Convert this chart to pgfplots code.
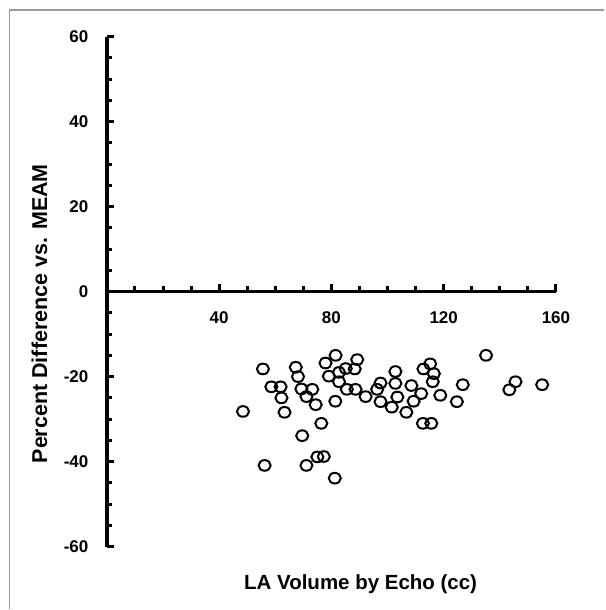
\documentclass[border=0pt]{standalone}
\usepackage{pgfplots}
\pgfplotsset{compat=1.18}
\usepackage{fontspec}
\setmainfont{Liberation Sans}

\begin{document}
\begin{tikzpicture}
\begin{axis}[
  x=2.81bp, y=4.255bp,
  xmin=0, xmax=160, ymin=-60, ymax=60,
  clip=false,
  axis x line=middle, axis y line=left,
  axis line style={line width=3.4bp, -},
  hide obscured x ticks=false, hide obscured y ticks=false,
  xtick={0,40,80,120,160}, xticklabels={,40,80,120,160},
  ytick={-60,-40,...,60},
  minor x tick num=3, minor y tick num=3,
  tick align=inside,
  major tick length=7.5bp, minor tick length=5.5bp,
  every tick/.style={line width=3bp, black},
  /pgf/number format/assume math mode=true,
  tick label style={font=\fontsize{17bp}{19bp}\selectfont\bfseries},
  yticklabel style={xshift=-15bp},
  xticklabel style={yshift=-17bp},
  xlabel={LA Volume by Echo (cc)},
  ylabel={Percent Difference vs. MEAM},
  xlabel style={font=\fontsize{20.5bp}{23bp}\selectfont\bfseries,
    at={(axis cs:90.4,-70.1)}, anchor=base},
  ylabel style={font=\fontsize{21.5bp}{24bp}\selectfont\bfseries,
    at={(axis cs:-24,-5.2)}, anchor=center, rotate=0},
]
% bounding box and frame
\path (axis cs:-38.08,68.62) rectangle (axis cs:177.22,-74.74);
\draw[gray!80, line width=1.5bp] (axis cs:-34.7,-74.74) |- (axis cs:177.22,66.27);

\addplot[only marks, mark=o, mark size=5.6bp,
  mark options={line width=2bp, black, xscale=1.08, yscale=0.95}]
coordinates {
(55.6,-18.2) (67.3,-17.8) (68.1,-20.0) (58.6,-22.4) (61.9,-22.4)
(62.2,-25.0) (48.5,-28.2) (63.3,-28.4) (69.3,-22.9) (73.2,-23.0)
(71.1,-24.7) (74.4,-26.6) (77.9,-16.8) (81.5,-15.0) (79.1,-19.9)
(82.7,-19.0) (85.1,-18.1) (89.2,-16.0) (88.3,-18.2) (82.7,-21.2)
(85.5,-23.0) (88.6,-23.0) (81.4,-25.8) (92.2,-24.7) (97.5,-21.5)
(96.3,-23.0) (97.5,-25.9) (101.5,-27.2) (102.8,-18.8) (102.8,-21.6)
(103.5,-24.8) (108.5,-22.1) (106.7,-28.4) (109.3,-25.8) (76.4,-31.0)
(69.6,-33.9) (75.0,-38.9) (77.3,-38.8) (56.2,-40.9) (71.1,-40.9)
(81.2,-43.9) (115.2,-17.0) (112.8,-18.2) (116.5,-19.3) (116.1,-21.2)
(112.0,-24.0) (118.8,-24.4) (126.8,-21.9) (124.7,-25.9) (112.6,-31.0)
(115.6,-31.0) (135.1,-15.0) (145.6,-21.2) (143.4,-23.1) (155.1,-21.9)
};
\end{axis}
\end{tikzpicture}
\end{document}
